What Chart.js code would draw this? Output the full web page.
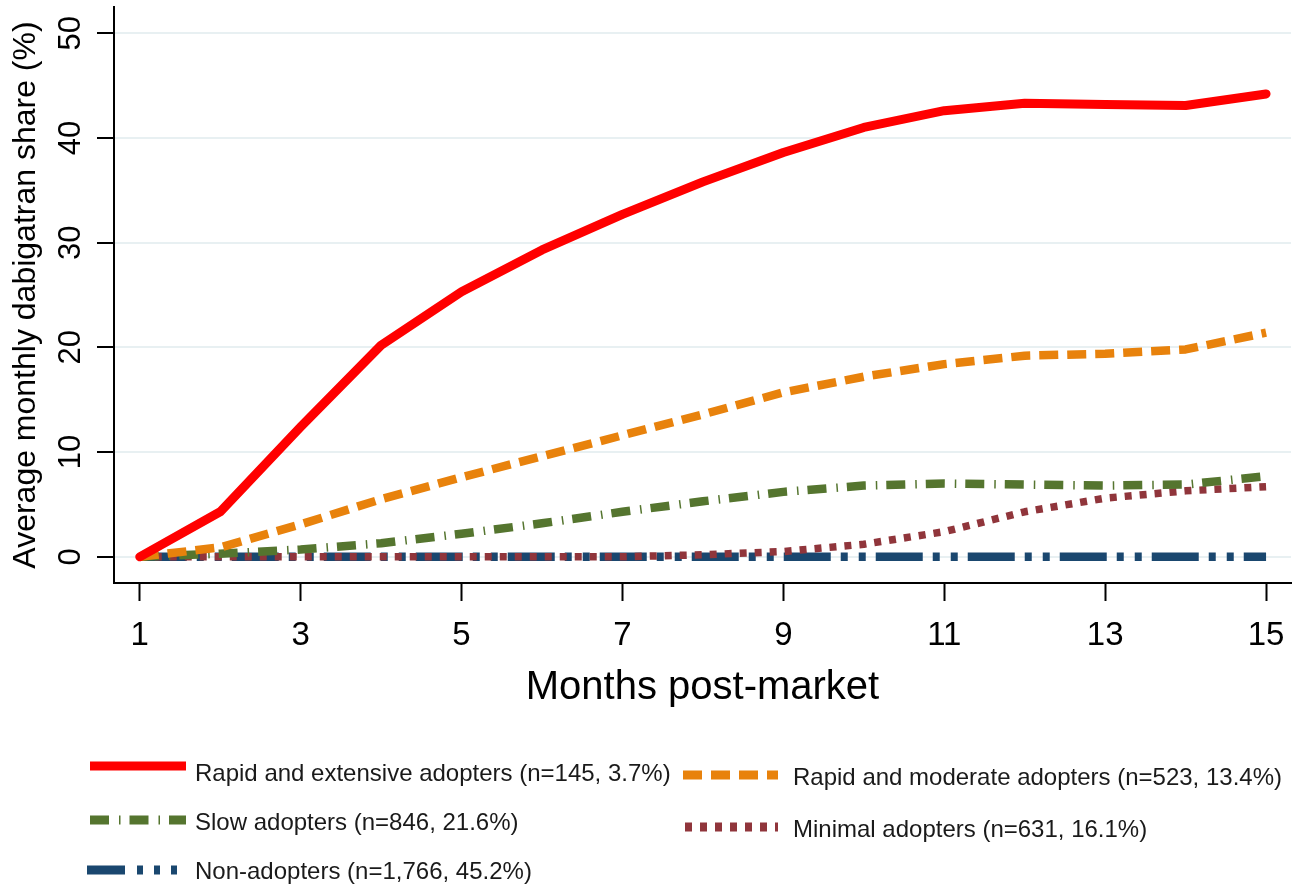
<!DOCTYPE html>
<html>
<head>
<meta charset="utf-8">
<script src="https://cdn.jsdelivr.net/npm/chart.js@4.4.1/dist/chart.umd.min.js"></script>
<style>
  html, body { margin: 0; padding: 0; background: #fff; }
  #wrap { width: 1305px; height: 886px; position: relative; }
</style>
</head>
<body>
<div id="wrap"><canvas id="myChart" width="1305" height="886"></canvas></div>
<script>
// months since market entry
const months = [1, 2, 3, 4, 5, 6, 7, 8, 9, 10, 11, 12, 13, 14, 15]
const xTicks = [1, 3, 5, 7, 9, 11, 13, 15]
const yTicks = [0, 10, 20, 30, 40, 50]

// average monthly dabigatran share (%) per adopter group
const rapidExtensive = [0, 4.3, 12.4, 20.2, 25.3, 29.3, 32.7, 35.8, 38.6, 41.0, 42.6, 43.3, 43.2, 43.1, 44.2]
const rapidModerate = [0, 0.9, 3.1, 5.5, 7.6, 9.6, 11.6, 13.6, 15.7, 17.2, 18.4, 19.2, 19.4, 19.8, 21.4]
const slowAdopters = [0, 0.3, 0.7, 1.3, 2.2, 3.2, 4.3, 5.3, 6.2, 6.8, 7.0, 6.9, 6.8, 6.9, 7.7]
const minimalAdopters = [0, 0, 0, 0, 0, 0, 0, 0.2, 0.5, 1.2, 2.4, 4.3, 5.6, 6.3, 6.7]
const nonAdopters = [0, 0, 0, 0, 0, 0, 0, 0, 0, 0, 0, 0, 0, 0, 0]

const seriesLabels = [
  'Rapid and extensive adopters (n=145, 3.7%)',
  'Rapid and moderate adopters (n=523, 13.4%)',
  'Slow adopters (n=846, 21.6%)',
  'Minimal adopters (n=631, 16.1%)',
  'Non-adopters (n=1,766, 45.2%)'
]

const FONT = '"Liberation Sans", Arial, sans-serif'

const toPoints = vals => months.map((m, i) => ({ x: m, y: vals[i] }))

const datasets = [
  {
    label: seriesLabels[0],
    data: toPoints(rapidExtensive),
    borderColor: '#ff0000',
    borderWidth: 9,
    borderCapStyle: 'round',
    order: 0
  },
  {
    label: seriesLabels[1],
    data: toPoints(rapidModerate),
    borderColor: '#e8820c',
    borderWidth: 8.5,
    borderDash: [19, 9],
    order: 1
  },
  {
    label: seriesLabels[2],
    data: toPoints(slowAdopters),
    borderColor: '#55752f',
    borderWidth: 8.5,
    borderDash: [19, 10, 1.5, 9],
    order: 2
  },
  {
    label: seriesLabels[3],
    data: toPoints(minimalAdopters),
    borderColor: '#90353b',
    borderWidth: 7.5,
    borderDash: [7, 8],
    order: 3
  },
  {
    label: seriesLabels[4],
    data: toPoints(nonAdopters),
    borderColor: '#1a476f',
    borderWidth: 8.5,
    borderDash: [47, 10, 7, 11, 7, 10],
    order: 4
  }
]

// legend layout (stata style, two staggered columns)
const legendItems = [
  { ds: 0, x0: 90, x1: 186, ly: 766, tx: 195, ty: 781 },
  { ds: 2, x0: 90, x1: 186, ly: 820, tx: 195, ty: 830 },
  { ds: 4, x0: 87, x1: 186, ly: 870, tx: 195, ty: 879, dash: [38, 12, 6, 11, 6, 11, 6, 10] },
  { ds: 1, x0: 683, x1: 778, ly: 775, tx: 793, ty: 785 },
  { ds: 3, x0: 685, x1: 778, ly: 827, tx: 793, ty: 837 }
]

const textPlugin = {
  id: 'textPlugin',
  afterDraw (chart) {
    const ctx = chart.ctx
    const ys = chart.scales.y
    const area = chart.chartArea
    ctx.save()
    ctx.fillStyle = '#000'

    // rotated y tick labels
    ctx.font = '31px ' + FONT
    ctx.textAlign = 'center'
    ctx.textBaseline = 'middle'
    yTicks.forEach(v => {
      ctx.save()
      ctx.translate(71, ys.getPixelForValue(v))
      ctx.rotate(-Math.PI / 2)
      ctx.fillText(String(v), 0, 0)
      ctx.restore()
    })

    // y axis title
    ctx.font = '32px ' + FONT
    ctx.textBaseline = 'alphabetic'
    ctx.save()
    ctx.translate(35, (area.top + area.bottom) / 2)
    ctx.rotate(-Math.PI / 2)
    ctx.fillText('Average monthly dabigatran share (%)', 0, 0)
    ctx.restore()

    // legend
    legendItems.forEach(item => {
      const ds = chart.data.datasets[item.ds]
      ctx.save()
      ctx.strokeStyle = ds.borderColor
      ctx.lineWidth = 9
      ctx.lineCap = 'butt'
      ctx.setLineDash(item.dash || ds.borderDash || [])
      ctx.beginPath()
      ctx.moveTo(item.x0, item.ly)
      ctx.lineTo(item.x1, item.ly)
      ctx.stroke()
      ctx.restore()
      ctx.font = '24px ' + FONT
      ctx.textAlign = 'left'
      ctx.textBaseline = 'alphabetic'
      ctx.fillStyle = '#1a1a1a'
      ctx.fillText(ds.label, item.tx, item.ty)
    })
    ctx.restore()
  }
}

const configuration = {
  type: 'line',
  data: { datasets: datasets },
  options: {
    responsive: false,
    animation: false,
    events: [],
    layout: { padding: { top: 7, right: 14, bottom: 160, left: 0 } },
    elements: {
      line: { tension: 0, fill: false, borderJoinStyle: 'round' },
      point: { radius: 0 }
    },
    scales: {
      x: {
        type: 'linear',
        min: 0.68,
        max: 15.31,
        afterBuildTicks: scale => { scale.ticks = xTicks.map(v => ({ value: v })) },
        afterFit: scale => { scale.height = 143 },
        grid: {
          drawOnChartArea: false,
          tickLength: 18,
          tickColor: '#000',
          tickWidth: 2
        },
        border: { color: '#000', width: 2 },
        ticks: {
          color: '#000',
          font: { family: FONT, size: 33 },
          padding: 15,
          maxRotation: 0,
          callback: v => String(v)
        },
        title: {
          display: true,
          text: 'Months post-market',
          color: '#000',
          font: { family: FONT, size: 40 },
          padding: { top: 4, bottom: 14 }
        }
      },
      y: {
        type: 'linear',
        min: -2.5,
        max: 52.5,
        afterBuildTicks: scale => { scale.ticks = yTicks.map(v => ({ value: v })) },
        afterFit: scale => { scale.width = 114 },
        grid: {
          color: '#e8f0f2',
          lineWidth: 2,
          tickLength: 17,
          tickColor: '#000',
          tickWidth: 2
        },
        border: { color: '#000', width: 2 },
        ticks: { display: false }
      }
    },
    plugins: {
      legend: { display: false },
      tooltip: { enabled: false }
    }
  },
  plugins: [textPlugin]
}

const ctx = document.getElementById('myChart').getContext('2d')
const myChart = new Chart(ctx, configuration)
</script>
</body>
</html>
